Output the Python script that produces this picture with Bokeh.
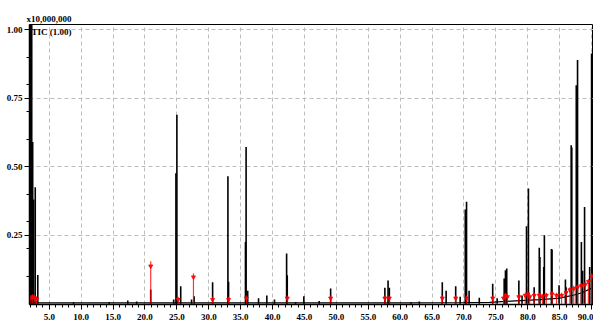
from bokeh.plotting import figure
from bokeh.models import FixedTicker, Range1d, Label, PrintfTickFormatter, ColumnDataSource
from bokeh.embed import file_html
from bokeh.resources import INLINE

# Black peaks: retention time (min) and relative intensity
peak_rt = [2.05, 2.25, 2.4, 2.55, 2.8, 3.2, 8.8, 14.4, 17.3, 18.7, 20.9,
           24.5, 24.85, 25.0, 25.6, 27.3, 27.7, 30.6, 33.0, 33.1, 35.75, 35.85,
           36.1, 37.8, 39.1, 40.3, 42.2, 42.3, 43.6, 44.9, 47.3, 49.1, 57.6,
           58.1, 58.3, 61.7, 63.0, 66.6, 67.2, 68.7, 69.4, 70.2, 70.4, 70.8,
           72.4, 74.5, 75.2, 76.3, 76.5, 76.7, 78.6, 79.1, 79.8, 80.1, 81.0,
           81.8, 81.9, 82.5, 82.6, 83.7, 83.8, 84.9, 85.9, 86.0, 86.8, 86.9,
           87.6, 87.8, 88.4, 88.6, 88.9, 89.7, 90.0]
peak_h = [1.10, 1.10, 0.59, 0.38, 0.425, 0.105, 0.005, 0.006, 0.012, 0.008, 0.052,
          0.015, 0.476, 0.69, 0.064, 0.015, 0.027, 0.078, 0.465, 0.08, 0.225, 0.572,
          0.047, 0.02, 0.03, 0.015, 0.183, 0.104, 0.006, 0.027, 0.01, 0.055, 0.058,
          0.085, 0.058, 0.005, 0.008, 0.078, 0.047, 0.064, 0.025, 0.344, 0.372, 0.047,
          0.022, 0.073, 0.02, 0.092, 0.122, 0.128, 0.085, 0.03, 0.283, 0.42, 0.06,
          0.204, 0.17, 0.134, 0.25, 0.2, 0.198, 0.067, 0.088, 0.06, 0.578, 0.57,
          0.797, 0.889, 0.225, 0.12, 0.353, 0.134, 0.913]

# Red integration markers
mark_rt = [2.1, 2.4, 2.8, 3.0, 20.9, 25.2, 27.6, 30.6, 33.1, 35.9, 42.3, 49.1,
           57.6, 58.3, 66.6, 68.7, 70.4, 74.5, 76.2, 76.5, 76.8, 78.6, 79.6,
           80.0, 80.3, 81.0, 81.8, 82.3, 82.9, 83.8, 84.5, 85.3, 86.0, 86.6,
           87.2, 87.8, 88.4, 89.0, 89.5, 90.0]
mark_h = [0.02, 0.025, 0.02, 0.015, 0.137, 0.015, 0.097, 0.015, 0.015, 0.02, 0.02, 0.02,
          0.02, 0.02, 0.02, 0.02, 0.02, 0.02, 0.02, 0.03, 0.025, 0.025, 0.03,
          0.035, 0.025, 0.03, 0.03, 0.025, 0.03, 0.035, 0.03, 0.03, 0.04, 0.05,
          0.055, 0.06, 0.065, 0.07, 0.08, 0.1]
mark_top = [0.03, 0.035, 0.03, 0.025, 0.155, 0.025, 0.11, 0.025, 0.025, 0.03, 0.03, 0.03,
            0.03, 0.03, 0.03, 0.03, 0.03, 0.03, 0.03, 0.04, 0.035, 0.035, 0.04,
            0.045, 0.035, 0.04, 0.04, 0.035, 0.04, 0.045, 0.04, 0.04, 0.05, 0.06,
            0.065, 0.07, 0.075, 0.08, 0.09, 0.11]

# Baseline drift
base_rt = [1.9, 20.0, 40.0, 60.0, 70.0, 74.0, 78.0, 82.0, 85.0, 87.0, 88.5, 90.3]
base_h = [0.003, 0.003, 0.003, 0.003, 0.004, 0.005, 0.01, 0.015, 0.02, 0.03, 0.04, 0.06]

x_major = [5, 10, 15, 20, 25, 30, 35, 40, 45, 50, 55, 60, 65, 70, 75, 80, 85, 90]
x_minor = list(range(2, 91))
y_major = [0.25, 0.5, 0.75, 1.0]
y_minor = [0.1, 0.2, 0.3, 0.4, 0.5, 0.6, 0.7, 0.8, 0.9, 1.0]

FONT = "Liberation Sans Narrow"

p = figure(width=593, height=324, x_range=Range1d(1.9, 90.3), y_range=Range1d(-0.003, 1.019),
           output_backend="svg", toolbar_location=None,
           min_border_left=29, min_border_right=0, min_border_top=24, min_border_bottom=20,
           title="x10,000,000")
p.title.text_font = FONT
p.title.text_font_style = "bold"
p.title.text_font_size = "9px"
p.title.align = "left"
p.title.offset = -3
p.title.standoff = 1
p.title.text_color = "black"

p.outline_line_color = "black"
p.outline_line_width = 1

p.xaxis.ticker = FixedTicker(ticks=x_major, minor_ticks=x_minor)
p.yaxis.ticker = FixedTicker(ticks=y_major, minor_ticks=y_minor)
p.xaxis.formatter = PrintfTickFormatter(format="%.1f")
p.yaxis.formatter = PrintfTickFormatter(format="%.2f")
for ax in (p.xaxis, p.yaxis):
    ax.axis_line_color = "black"
    ax.axis_line_width = 1.5
    ax.major_tick_line_color = "black"
    ax.minor_tick_line_color = "black"
    ax.major_tick_in = 0
    ax.major_tick_out = 5
    ax.minor_tick_in = 0
    ax.minor_tick_out = 3
    ax.major_label_text_font = FONT
    ax.major_label_text_font_style = "bold"
    ax.major_label_text_font_size = "9px"
    ax.major_label_text_color = "black"
p.xaxis.major_label_standoff = 4
p.yaxis.major_label_standoff = 2

for g in (p.xgrid, p.ygrid):
    g.grid_line_color = "#bdbdbd"
    g.grid_line_dash = "4 3"
    g.grid_line_width = 1

src_p = ColumnDataSource(dict(x=peak_rt, y=peak_h, y0=[0] * len(peak_rt)))
p.segment(x0="x", y0="y0", x1="x", y1="y", source=src_p, line_color="black", line_width=1.6)

p.line(base_rt, base_h, line_color="black", line_width=1.2)

src_m = ColumnDataSource(dict(x=mark_rt, y=mark_h, top=mark_top, y0=[0] * len(mark_rt)))
p.segment(x0="x", y0="y0", x1="x", y1="top", source=src_m, line_color="red", line_width=1.2, line_alpha=0.8)
p.scatter(x="x", y="y", source=src_m, marker="inverted_triangle", size=4, color="red", alpha=0.85)

p.add_layout(Label(x=2.2, y=1.011, text="TIC (1.00)", text_font=FONT, text_font_style="bold",
                   text_font_size="9px", text_baseline="top", text_color="black"))

open("out.html", "w").write(file_html(p, INLINE))
